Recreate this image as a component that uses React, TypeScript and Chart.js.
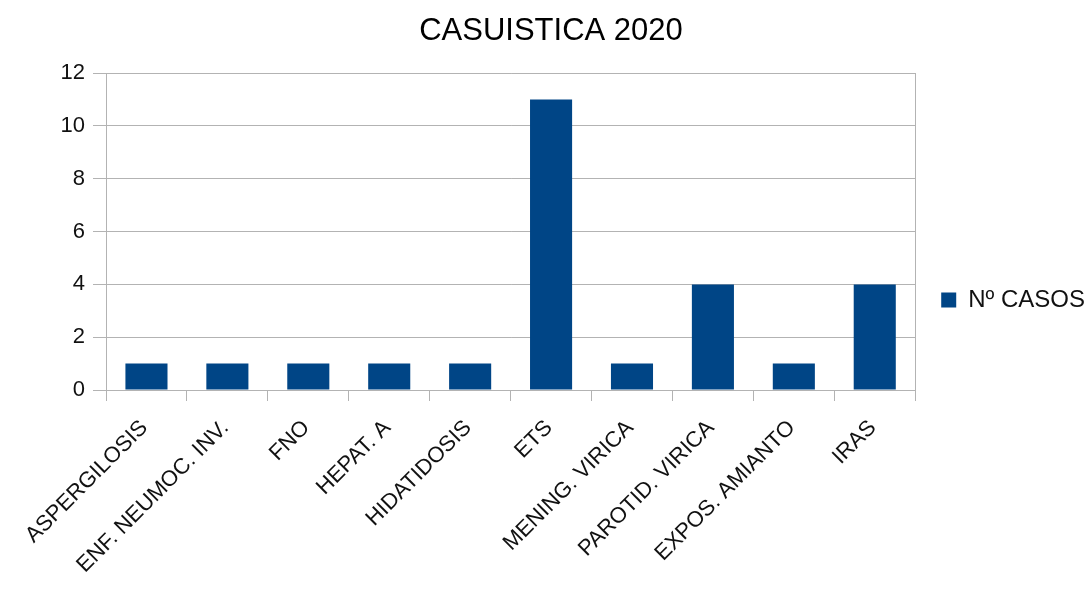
import React, { useEffect, useRef } from "react";
import { Chart, registerables } from "chart.js";

Chart.register(...registerables);

const chartTitle = "CASUISTICA 2020";
const seriesLabel = "Nº CASOS";
const categories = [
  "ASPERGILOSIS",
  "ENF. NEUMOC. INV.",
  "FNO",
  "HEPAT. A",
  "HIDATIDOSIS",
  "ETS",
  "MENING. VIRICA",
  "PAROTID. VIRICA",
  "EXPOS. AMIANTO",
  "IRAS",
];
const casos = [1, 1, 1, 1, 1, 11, 1, 4, 1, 4];
const yMin = 0;
const yMax = 12;
const yStep = 2;

const FONT = "'Liberation Sans', Arial, sans-serif";
const GRID = "#b3b3b3";
const BAR = "#004586";
const TEXT = "#111111";

export default function App() {
  const ref = useRef<HTMLCanvasElement | null>(null);

  useEffect(() => {
    if (!ref.current) return;
    const chart = new Chart(ref.current, {
      type: "bar",
      data: {
        labels: categories,
        datasets: [
          {
            label: seriesLabel,
            data: casos,
            backgroundColor: BAR,
            borderWidth: 0,
            barPercentage: 0.52,
            categoryPercentage: 1,
          },
        ],
      },
      options: {
        responsive: false,
        animation: false,
        layout: { padding: { left: 7, right: -6, top: 10, bottom: 0 } },
        plugins: {
          title: {
            display: true,
            text: chartTitle,
            color: "#000",
            font: { family: FONT, size: 31, weight: "normal" },
            padding: { top: 3, bottom: 23 },
          },
          legend: {
            position: "right",
            labels: {
              color: TEXT,
              font: { family: FONT, size: 24 },
              boxWidth: 15,
              boxHeight: 15,
              padding: 4,
            },
          },
          tooltip: { enabled: false },
        },
        scales: {
          x: {
            grid: {
              offset: true,
              drawOnChartArea: false,
              drawTicks: true,
              tickLength: 11,
              color: GRID,
            },
            border: { color: GRID },
            ticks: {
              autoSkip: false,
              minRotation: 45,
              maxRotation: 45,
              padding: 14,
              labelOffset: -2,
              color: TEXT,
              font: { family: FONT, size: 22 },
            },
            afterFit: (s: any) => {
              s.height = 200;
            },
          },
          y: {
            min: yMin,
            max: yMax,
            ticks: {
              stepSize: yStep,
              padding: 8,
              color: TEXT,
              font: { family: FONT, size: 22 },
            },
            grid: { color: GRID, tickLength: 13 },
            border: { color: GRID },
            afterFit: (s: any) => {
              s.width = 99;
            },
          },
          y2: {
            position: "right",
            min: yMin,
            max: yMax,
            ticks: { display: false },
            grid: { drawOnChartArea: false, drawTicks: false },
            border: { color: GRID },
            afterFit: (s: any) => {
              s.width = 22;
            },
          },
        },
      },
    });
    return () => chart.destroy();
  }, []);

  return (
    <canvas
      ref={ref}
      width={1089}
      height={590}
      style={{ position: "absolute", left: 0, top: 0, display: "block" }}
    />
  );
}
